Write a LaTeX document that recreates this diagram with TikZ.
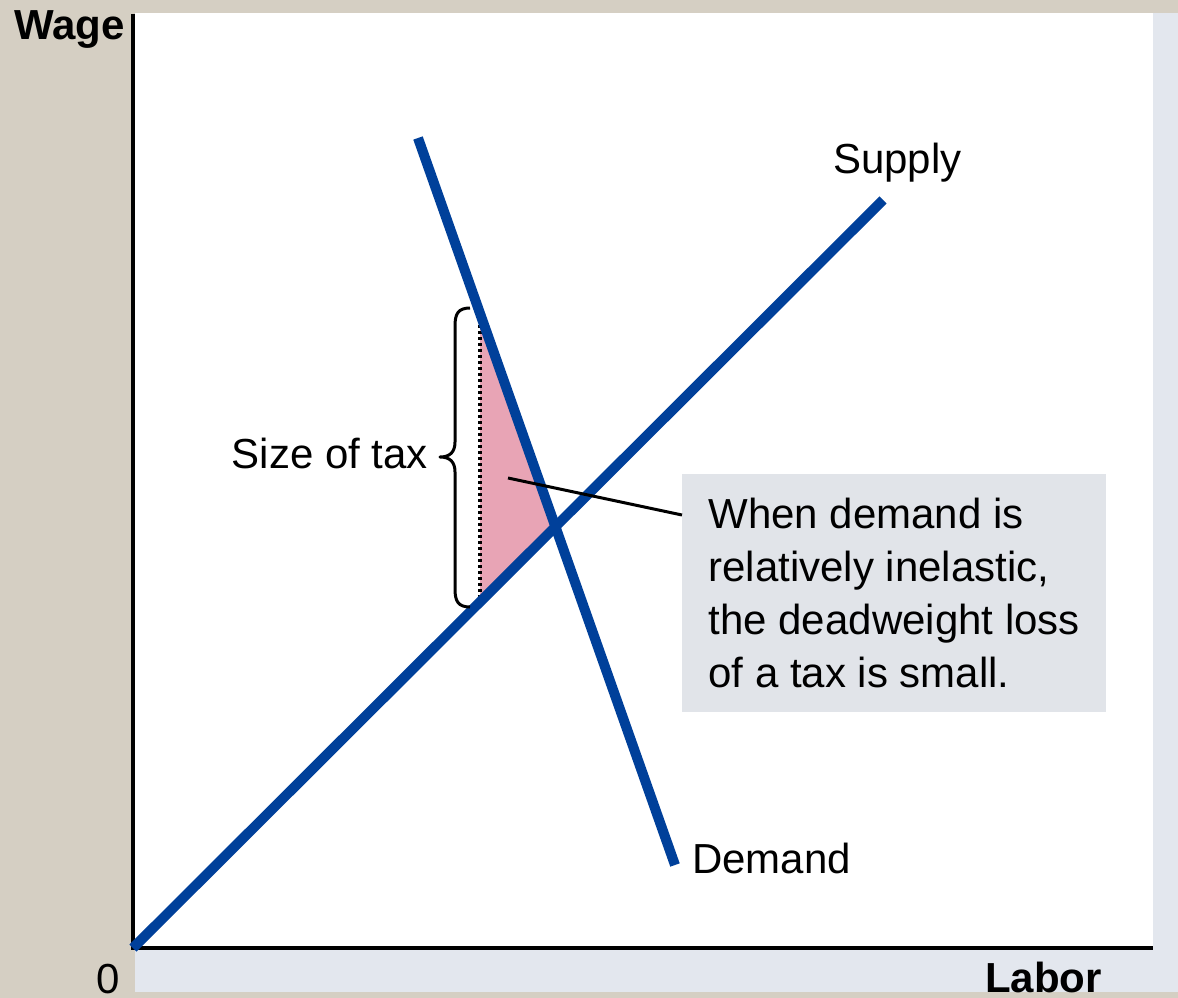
\documentclass[tikz,border=0pt]{standalone}
\usepackage{fontspec}
\setmainfont{Liberation Sans}
\definecolor{tanbg}{HTML}{D5CFC3}
\definecolor{stripbg}{HTML}{E3E7EE}
\definecolor{curveblue}{HTML}{00409A}
\definecolor{dwlpink}{HTML}{E8A4B5}
\definecolor{boxgray}{HTML}{E1E4E9}
\begin{document}
\begin{tikzpicture}[x=1pt,y=-1pt,
  lbl/.style={inner sep=0pt, font=\fontsize{42}{53}\selectfont},
  boldlbl/.style={lbl, font=\fontsize{42}{53}\selectfont\bfseries},
  curve/.style={draw=curveblue, line width=10pt},
  axis/.style={draw=black, line width=4pt},
  thin/.style={draw=black, line width=3pt},
  notebox/.style={fill=boxgray, minimum width=424pt, minimum height=238pt,
    align=left, inner xsep=26pt, inner ysep=0pt,
    font=\fontsize{42}{53}\selectfont}]
\useasboundingbox (0,0) rectangle (1178,998);
% backgrounds
\fill[tanbg] (0,0) rectangle (1178,998);
\fill[stripbg] (135,948) rectangle (1178,992);
\fill[stripbg] (1153,13) rectangle (1178,992);
\fill[white] (135,13) rectangle (1153,948);
% deadweight loss triangle
\coordinate (T1) at (480,313.4);
\coordinate (E) at (555.4,526.8);
\coordinate (T2) at (480,602);
\fill[dwlpink] (T1) -- (E) -- (T2) -- cycle;
\draw[black, line width=3.5pt, dash pattern=on 3pt off 3pt] (T1) -- (T2);
% axes
\coordinate (O) at (133,948);
\coordinate (Ytop) at (133,14);
\coordinate (Xend) at (1153,948);
\draw[axis] (Ytop) -- (O |- 0,950);
\draw[axis] (O) -- (Xend);
% curves
\coordinate (S1) at (883,200);
\coordinate (D0) at (418,138);
\coordinate (D1) at (675,865);
\draw[curve] (O) -- (S1);
\draw[curve] (D0) -- (D1);
% brace
\draw[thin, line join=round] (470,308) .. controls (458,308) and (455,314) .. (455,326)
  -- (455,442) .. controls (455,452) and (450,457) .. (440,457)
  .. controls (450,457) and (455,462) .. (455,472)
  -- (455,589) .. controls (455,601) and (458,607) .. (470,607);
% labels
\node[boldlbl, anchor=base east] (wage) at (125,40) {Wage};
\node[lbl, anchor=base west] (zero) at (96,993) {0};
\node[boldlbl, anchor=base west] (labor) at (985,992) {Labor};
\node[lbl, anchor=base west] (supply) at (833,173) {Supply};
\node[lbl, anchor=base west] (demand) at (692,873) {Demand};
\node[lbl, anchor=base east] (sizetax) at (428,468) {Size of tax};
% note box
\node[notebox, anchor=north west] (box) at (682,474)
  {When demand is\\relatively inelastic,\\the deadweight loss\\of a tax is small.};
\coordinate (C0) at (508,478);
\coordinate (C1) at (682,515);
\draw[thin] (C0) -- (C1);
\end{tikzpicture}
\end{document}
